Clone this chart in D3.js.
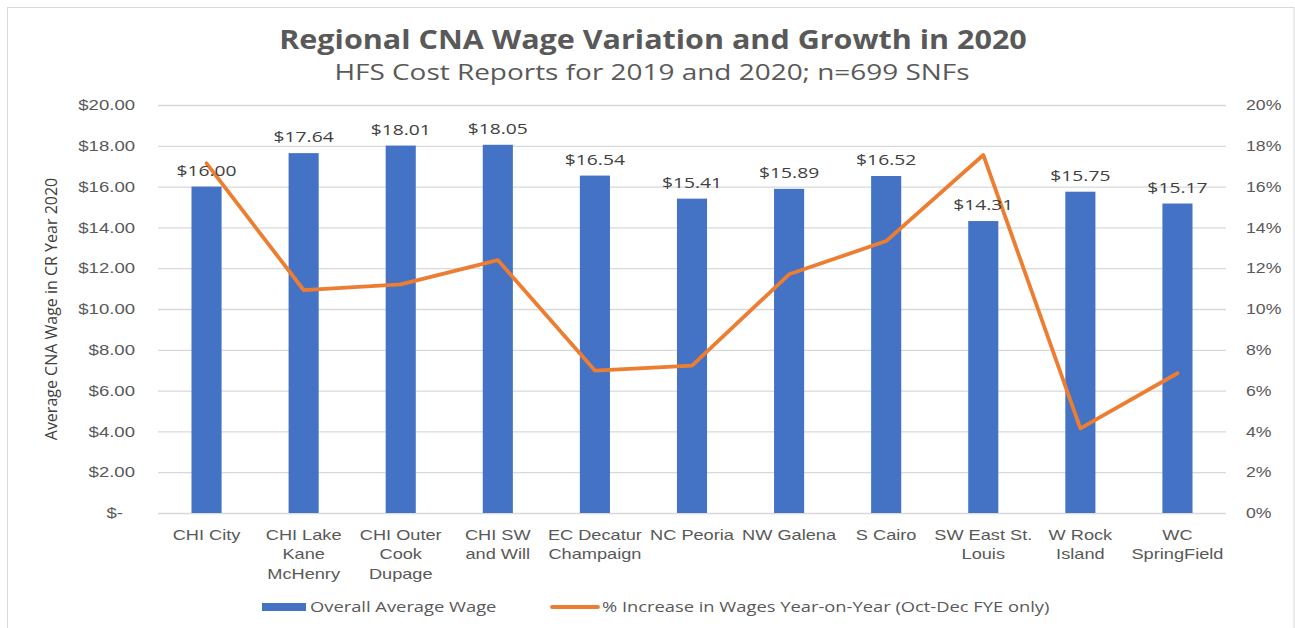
<!DOCTYPE html>
<html>
<head>
<meta charset="utf-8">
<script src="https://cdn.jsdelivr.net/npm/d3@7"></script>
<style>
  body { margin: 0; background: #fff; }
  .axis text { fill: #595959; }
</style>
</head>
<body>
<div class="chart-container"></div>
<script>
// 地區名稱
const regions = ['CHI City', 'CHI Lake Kane McHenry', 'CHI Outer Cook Dupage', 'CHI SW and Will',
  'EC Decatur Champaign', 'NC Peoria', 'NW Galena', 'S Cairo', 'SW East St. Louis', 'W Rock Island', 'WC SpringField'];
// 平均工資
const avgWage = [16.00, 17.64, 18.01, 18.05, 16.54, 15.41, 15.89, 16.52, 14.31, 15.75, 15.17];
// 年增率
const pctIncrease = [0.1714, 0.1093, 0.1121, 0.1240, 0.0698, 0.0722, 0.1170, 0.1333, 0.1755, 0.0415, 0.0685];
// 刻度
const wageTicks = [0, 2, 4, 6, 8, 10, 12, 14, 16, 18, 20];
const pctTicks = [0, 0.02, 0.04, 0.06, 0.08, 0.10, 0.12, 0.14, 0.16, 0.18, 0.20];

const chartData = regions.map((r, i) => ({region: r, wage: avgWage[i], pct: pctIncrease[i]}));

//文字水平拉寬 (原圖字形較寬)
function stretchX(sel, sx) {
  sel.each(function() {
    const t = d3.select(this);
    const x = +t.attr('x') || 0;
    t.attr('x', x / sx).attr('transform', `scale(${sx},1)`);
  });
}

function setupCanvas(data) {
  const svg_width = 1295;
  const svg_height = 628;
  const margin = {top: 105, right: 69, bottom: 115, left: 158};
  const chart_width = svg_width - margin.left - margin.right;
  const chart_height = svg_height - margin.top - margin.bottom;

  const svg = d3.select('.chart-container').append('svg')
    .attr('width', svg_width).attr('height', svg_height)
    .style('font-family', '"Open Sans", sans-serif');

  // 外框
  svg.append('rect')
    .attr('x', 7.5).attr('y', 7.5)
    .attr('width', 1286.5).attr('height', 640)
    .attr('fill', 'none').attr('stroke', '#d9d9d9');

  const g = svg.append('g').attr('transform', `translate(${margin.left},${margin.top})`);

  const xScale = d3.scaleBand().domain(data.map(d => d.region))
    .range([0, chart_width]).paddingInner(0.69).paddingOuter(0.345);
  const yScale = d3.scaleLinear().domain([0, 20]).range([chart_height, 0]);
  const y2Scale = d3.scaleLinear().domain([0, 0.2]).range([chart_height, 0]);

  // 格線
  g.append('g').attr('class', 'grid')
    .call(d3.axisLeft(yScale).tickValues(wageTicks).tickSize(-chart_width).tickFormat(''))
    .call(s => s.select('.domain').remove())
    .call(s => s.selectAll('line').attr('stroke', '#d9d9d9').attr('stroke-width', 1.3));

  // 左軸
  const yAxis = d3.axisLeft(yScale).tickValues(wageTicks).tickSize(0).tickPadding(23)
    .tickFormat(d => d === 0 ? '$-' : d3.format('$.2f')(d));
  g.append('g').attr('class', 'y axis').call(yAxis)
    .call(s => s.select('.domain').remove())
    .selectAll('text').style('font-size', '14.5px')
    .attr('x', d => d === 0 ? -35 : -23)
    .call(stretchX, 1.28);

  // 右軸
  const y2Axis = d3.axisRight(y2Scale).tickValues(pctTicks).tickSize(0).tickPadding(20)
    .tickFormat(d3.format('.0%'));
  g.append('g').attr('class', 'y2 axis').attr('transform', `translate(${chart_width},0)`)
    .call(y2Axis)
    .call(s => s.select('.domain').remove())
    .selectAll('text').style('font-size', '14.5px')
    .call(stretchX, 1.22);

  // X軸標籤
  const xAxis = d3.axisBottom(xScale).tickSize(0).tickPadding(17);
  const xAxisDraw = g.append('g').attr('class', 'x axis')
    .attr('transform', `translate(0,${chart_height})`).call(xAxis)
    .call(s => s.select('.domain').remove());
  xAxisDraw.selectAll('text').style('font-size', '14px')
    .call(wrap, 100, 1.3)
    .call(stretchX, 1.3);

  // 長條圖
  g.selectAll('.bar').data(data).enter().append('rect')
    .attr('class', 'bar')
    .attr('x', d => xScale(d.region))
    .attr('y', d => yScale(d.wage))
    .attr('width', xScale.bandwidth())
    .attr('height', d => chart_height - yScale(d.wage))
    .attr('fill', '#4472c4');

  // 折線
  const line = d3.line()
    .x(d => xScale(d.region) + xScale.bandwidth() / 2)
    .y(d => y2Scale(d.pct));
  g.append('path').datum(data)
    .attr('d', line)
    .attr('fill', 'none').attr('stroke', '#ed7d31')
    .attr('stroke-width', 3.8).attr('stroke-linejoin', 'round').attr('stroke-linecap', 'round');

  // 數值標籤
  g.selectAll('.bar-label').data(data).enter().append('text')
    .attr('class', 'bar-label')
    .attr('x', d => xScale(d.region) + xScale.bandwidth() / 2)
    .attr('y', d => yScale(d.wage) - 11)
    .attr('text-anchor', 'middle')
    .style('font-size', '14.5px').style('fill', '#404040')
    .text(d => d3.format('$.2f')(d.wage))
    .call(stretchX, 1.33);

  // Y軸標題
  svg.append('text')
    .attr('transform', `translate(57,${margin.top + chart_height / 2}) rotate(-90)`)
    .attr('text-anchor', 'middle')
    .style('font-size', '16px').style('fill', '#404040')
    .text('Average CNA Wage in CR Year 2020');

  // 標題
  svg.append('text').attr('x', 653).attr('y', 49).attr('text-anchor', 'middle')
    .style('font-size', '27px').style('font-weight', 'bold').style('fill', '#595959')
    .text('Regional CNA Wage Variation and Growth in 2020')
    .call(stretchX, 1.13);
  svg.append('text').attr('x', 652).attr('y', 80).attr('text-anchor', 'middle')
    .style('font-size', '21.5px').style('fill', '#595959')
    .text('HFS Cost Reports for 2019 and 2020; n=699 SNFs')
    .call(stretchX, 1.3);

  // 圖例
  const legend = svg.append('g').attr('class', 'legend').attr('transform', 'translate(0,607)');
  legend.append('rect').attr('x', 262).attr('y', -4).attr('width', 44).attr('height', 8).attr('fill', '#4472c4');
  legend.append('text').attr('x', 310).attr('y', 5).style('font-size', '14px').style('fill', '#595959')
    .text('Overall Average Wage')
    .call(stretchX, 1.31);
  legend.append('line').attr('x1', 552).attr('x2', 598).attr('y1', 0).attr('y2', 0)
    .attr('stroke', '#ed7d31').attr('stroke-width', 3.8).attr('stroke-linecap', 'round');
  legend.append('text').attr('x', 602).attr('y', 5).style('font-size', '14px').style('fill', '#595959')
    .text('% Increase in Wages Year-on-Year (Oct-Dec FYE only)')
    .call(stretchX, 1.31);
}

// 標籤換行 (寬度以拉寬後計)
function wrap(texts, width, sx) {
  texts.each(function() {
    const text = d3.select(this);
    const words = text.text().split(/\s+/);
    const y = text.attr('y');
    const dy = parseFloat(text.attr('dy'));
    text.text(null);
    let lineNo = 0;
    let lineWords = [];
    let tspan = text.append('tspan').attr('x', 0).attr('y', y).attr('dy', dy + 'em');
    words.forEach(w => {
      lineWords.push(w);
      tspan.text(lineWords.join(' '));
      if (tspan.node().getComputedTextLength() * sx > width && lineWords.length > 1) {
        lineWords.pop();
        tspan.text(lineWords.join(' '));
        lineWords = [w];
        lineNo++;
        tspan = text.append('tspan').attr('x', 0).attr('y', y)
          .attr('dy', (lineNo * 1.39 + dy) + 'em').text(w);
      }
    });
  });
}

setupCanvas(chartData);
</script>
</body>
</html>
